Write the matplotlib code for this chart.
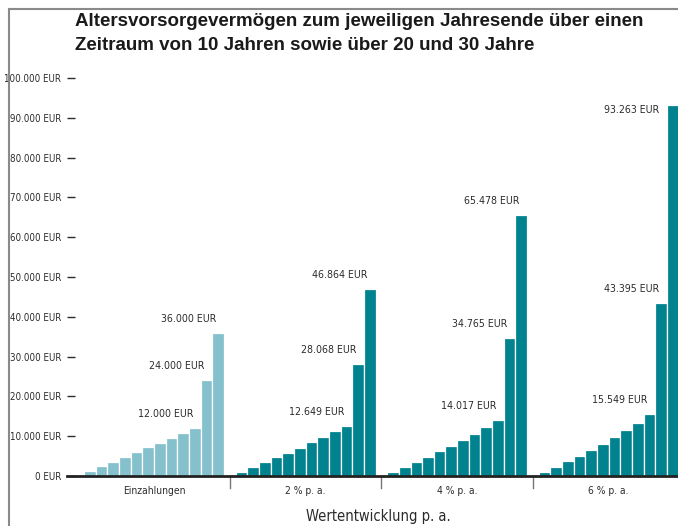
import matplotlib.pyplot as plt
from matplotlib.lines import Line2D
from matplotlib import font_manager as fm

# Data: yearly values (years 1-10, then year 20 and year 30)
groups = ["Einzahlungen", "2 % p. a.", "4 % p. a.", "6 % p. a."]
einzahlungen = [1200, 2400, 3600, 4800, 6000, 7200, 8400, 9600, 10800, 12000, 24000, 36000]
rendite_2 = [1100, 2300, 3600, 4700, 5900, 7100, 8600, 9900, 11200, 12649, 28068, 46864]
rendite_4 = [1050, 2300, 3600, 4800, 6250, 7550, 9100, 10600, 12300, 14017, 34765, 65478]
rendite_6 = [1100, 2350, 3700, 5100, 6600, 8100, 9800, 11600, 13400, 15549, 43395, 93263]
series = [einzahlungen, rendite_2, rendite_4, rendite_6]
labeled = [9, 10, 11]  # year 10, 20, 30
yticks = list(range(0, 100001, 10000))

light = "#85c1cc"
dark = "#00828f"
txt = "#2b2b2b"


def pick_narrow():
    # look for a condensed face, otherwise plain Liberation Sans a bit smaller
    for fam, stretch in [("Liberation Sans Narrow", "normal"), ("DejaVu Sans", "condensed")]:
        try:
            path = fm.findfont(fm.FontProperties(family=fam, stretch=stretch), fallback_to_default=False)
        except Exception:
            continue
        if "Narrow" in path or "Condensed" in path:
            return {"fname": path}, 1.0
    return {"family": ["Liberation Sans", "DejaVu Sans"]}, 0.82


nfont, scale = pick_narrow()


def ntext(size):
    p = dict(nfont)
    if "fname" in p:
        return {"fontproperties": fm.FontProperties(fname=p["fname"], size=size)}
    return {"family": p["family"], "fontsize": size * scale}


def fmt(v):
    return f"{v:,}".replace(",", ".") + " EUR"


fig = plt.figure(figsize=(6.78, 5.26), dpi=100)
ax = fig.add_axes([67 / 678, 50 / 526, 1 - 67 / 678, (476 - 70) / 526])

slot = 13
for g, vals in enumerate(series):
    xs = [g * slot + i for i in range(len(vals))]
    ax.bar(xs, vals, width=1, align="edge", color=light if g == 0 else dark,
           edgecolor="white", linewidth=0.9, zorder=2)
    for i in labeled:
        v = vals[i]
        if v > 90000:
            # no room above the top bar: put label beside it
            ax.annotate(fmt(v), (xs[i] - 1 + 0.35, v), xytext=(0, -5), textcoords="offset pixels",
                        ha="right", va="center", color=txt, **ntext(7.6))
        else:
            ax.annotate(fmt(v), (xs[i] + 0.35, v), xytext=(0, 14), textcoords="offset pixels",
                        ha="right", va="center", color=txt, **ntext(7.6))
    ax.text(g * slot + 6, -3800, groups[g], ha="center", va="center", color=txt, **ntext(7.4))
    if g > 0:
        ax.plot([g * slot - 0.5] * 2, [0, -3000], color="#777777", lw=1, clip_on=False)

ax.set_xlim(-1.458, 50.94)
ax.set_ylim(0, 102000)
ax.set_yticks(yticks)
ax.set_yticklabels([fmt(t) for t in yticks], color=txt, **ntext(7.0))
ax.tick_params(axis="y", direction="in", length=6, width=1, color=txt, pad=4)
ax.set_xticks([])
for s in ["top", "right", "left"]:
    ax.spines[s].set_visible(False)
ax.spines["bottom"].set_linewidth(2)
ax.spines["bottom"].set_color("#222222")
ax.spines["bottom"].set_zorder(3)

fig.text(378 / 678, 1 - 517 / 526, "Wertentwicklung p. a.", ha="center", va="center",
         color=txt, **ntext(10.5))
title_font = ["Liberation Sans", "DejaVu Sans"]
fig.text(75 / 678, 1 - 22 / 526, "Altersvorsorgevermögen zum jeweiligen Jahresende über einen",
         ha="left", va="center", fontsize=13.5, fontweight="bold", color="#1a1a1a", family=title_font)
fig.text(75 / 678, 1 - 46 / 526, "Zeitraum von 10 Jahren sowie über 20 und 30 Jahre",
         ha="left", va="center", fontsize=13.5, fontweight="bold", color="#1a1a1a", family=title_font)

# frame lines at top and left
fig.add_artist(Line2D([9 / 678, 1], [1 - 8.5 / 526] * 2, color="#8a8a8a", lw=1.5))
fig.add_artist(Line2D([9 / 678] * 2, [0, 1 - 8.5 / 526], color="#8a8a8a", lw=1.5))

fig.savefig("out.png", dpi=100)
